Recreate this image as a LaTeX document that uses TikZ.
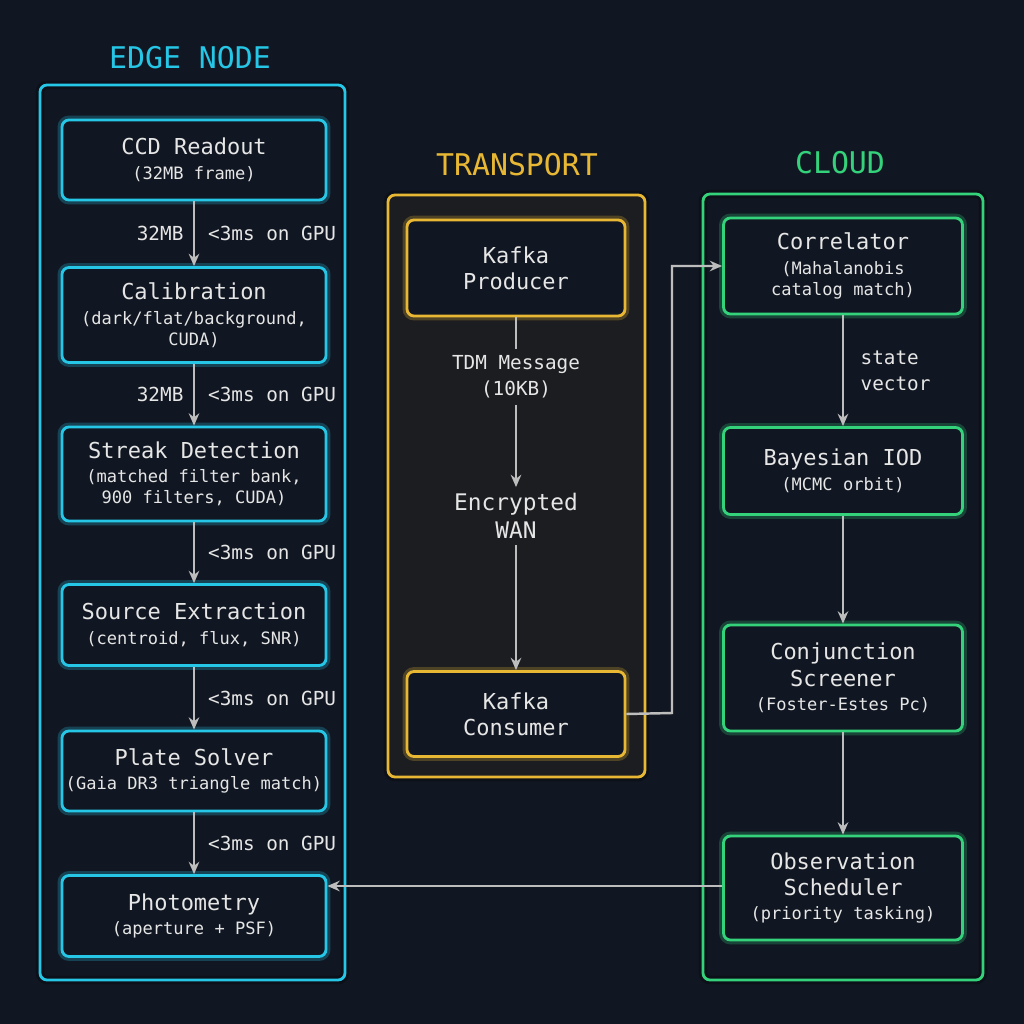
\documentclass[tikz,border=0pt]{standalone}
\usepackage{fontspec}
\setmonofont{DejaVu Sans Mono}
\usetikzlibrary{arrows.meta,positioning,calc}
\definecolor{bg}{HTML}{111722}
\definecolor{transbg}{HTML}{1C1D21}
\definecolor{edgec}{HTML}{25C6E6}
\definecolor{transc}{HTML}{E8B834}
\definecolor{cloudc}{HTML}{34D27A}
\definecolor{txt}{HTML}{E6E6E6}
\definecolor{arr}{HTML}{BDBDBD}
\newcommand{\smalltxt}{\fontsize{9.7}{13}\selectfont}
\begin{document}
\begin{tikzpicture}[x=0.02cm,y=-0.02cm,font=\ttfamily,text=txt,>={Stealth[length=7pt,width=6pt]}]
\tikzstyle{glow} = [preaction={draw,line width=5pt,draw opacity=0.25},line width=1.6pt,rounded corners=4pt]
\tikzstyle{block} = [glow,rectangle,draw,fill=bg,align=center,inner xsep=2pt,font=\ttfamily\fontsize{12.5}{15}\selectfont]
\tikzstyle{edgeblk} = [block,draw=edgec,minimum width=264*0.02cm]
\tikzstyle{transblk} = [block,draw=transc,minimum width=218*0.02cm]
\tikzstyle{cloudblk} = [block,draw=cloudc,minimum width=239*0.02cm]
\tikzstyle{signal} = [draw=arr,line width=1.4pt,->]
\tikzstyle{lbl} = [font=\ttfamily\fontsize{11}{15}\selectfont]
\tikzstyle{title} = [font=\ttfamily\fontsize{17}{20}\selectfont]

\fill[bg] (0,0) rectangle (1024,1024);
\useasboundingbox (0,0) rectangle (1024,1024);

% containers
\draw[glow,draw=edgec] (40,85) rectangle (345,980);
\draw[glow,draw=transc,fill=transbg] (388,195) rectangle (645,777);
\draw[glow,draw=cloudc] (703,194) rectangle (983,980);
\node[title,text=edgec] (edgetitle) at (190,58) {EDGE NODE};
\node[title,text=transc] (transtitle) at (517,165) {TRANSPORT};
\node[title,text=cloudc] (cloudtitle) at (840,163) {CLOUD};

% edge node
\node[edgeblk,minimum height=80*0.02cm] (ccd) at (194,160) {CCD Readout\\[-1pt]{\smalltxt(32MB frame)}};
\node[edgeblk,minimum height=95*0.02cm] (calib) at (194,315) {Calibration\\[-1pt]{\smalltxt(dark/flat/background,}\\[-3pt]{\smalltxt CUDA)}};
\node[edgeblk,minimum height=94*0.02cm] (streak) at (194,474) {Streak Detection\\[-1pt]{\smalltxt(matched filter bank,}\\[-3pt]{\smalltxt 900 filters, CUDA)}};
\node[edgeblk,minimum height=81*0.02cm] (source) at (194,625) {Source Extraction\\[-1pt]{\smalltxt(centroid, flux, SNR)}};
\node[edgeblk,minimum height=80*0.02cm] (plate) at (194,771) {Plate Solver\\[-1pt]{\smalltxt(Gaia DR3 triangle match)}};
\node[edgeblk,minimum height=81*0.02cm] (photo) at (194,916) {Photometry\\[-1pt]{\smalltxt(aperture + PSF)}};

\draw[signal] (ccd) -- node[lbl,left=2pt] {32MB} node[lbl,right=4pt] {<3ms on GPU} (calib);
\draw[signal] (calib) -- node[lbl,left=2pt] {32MB} node[lbl,right=4pt] {<3ms on GPU} (streak);
\draw[signal] (streak) -- node[lbl,right=4pt] {<3ms on GPU} (source);
\draw[signal] (source) -- node[lbl,right=4pt] {<3ms on GPU} (plate);
\draw[signal] (plate) -- node[lbl,right=4pt] {<3ms on GPU} (photo);

% transport
\node[transblk,minimum height=96*0.02cm] (producer) at (516,268) {Kafka\\Producer};
\node[transblk,minimum height=85*0.02cm] (consumer) at (516,714) {Kafka\\Consumer};
\node[lbl,align=center] (tdm) at (516,377) {TDM Message\\(10KB)};
\node[lbl,align=center,font=\ttfamily\fontsize{13}{16}\selectfont] (wan) at (516,516) {Encrypted\\WAN};
\draw[draw=arr,line width=1.4pt] (producer) -- (tdm);
\draw[signal] (tdm) -- (wan);
\draw[signal] (wan) -- (consumer);

% cloud
\node[cloudblk,minimum height=96*0.02cm] (correl) at (843,266) {Correlator\\[-1pt]{\smalltxt(Mahalanobis}\\[-3pt]{\smalltxt catalog match)}};
\node[cloudblk,minimum height=87*0.02cm] (iod) at (843,471) {Bayesian IOD\\[-1pt]{\smalltxt(MCMC orbit)}};
\node[cloudblk,minimum height=106*0.02cm] (conj) at (843,678) {Conjunction\\Screener\\[-1pt]{\smalltxt(Foster-Estes Pc)}};
\node[cloudblk,minimum height=104*0.02cm] (obs) at (843,888) {Observation\\Scheduler\\[-1pt]{\smalltxt(priority tasking)}};

\draw[signal] (correl) -- node[lbl,right=6pt,align=left] {state\\vector} (iod);
\draw[signal] (iod) -- (conj);
\draw[signal] (conj) -- (obs);

\coordinate (bendlow) at (672,713);
\coordinate (bendhigh) at (672,266);
\draw[signal] (consumer.east) -- (bendlow) -- (bendhigh) -- (correl.west);
\draw[signal] (obs.west |- 0,886) -- (photo.east |- 0,886);
\end{tikzpicture}
\end{document}
